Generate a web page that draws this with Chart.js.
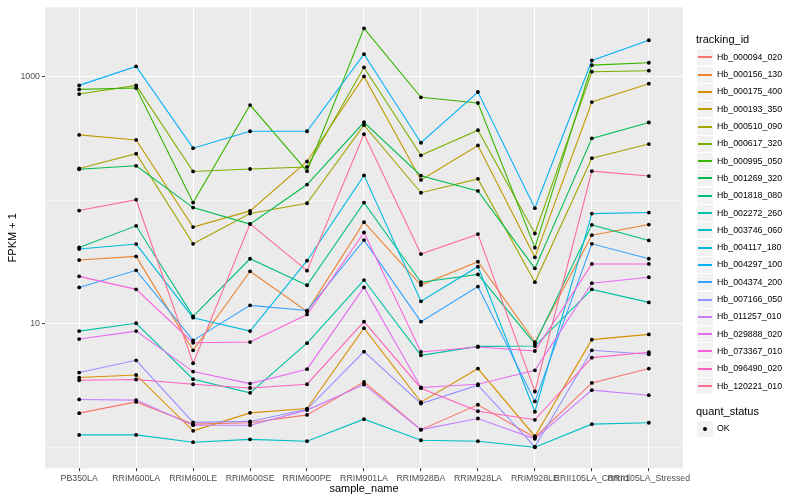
<!DOCTYPE html>
<html lang="en">
<head>
<meta charset="UTF-8">
<title>FPKM + 1 by sample</title>
<style>
    html, body { margin: 0; padding: 0; background: #ffffff; }
    #wrap { position: relative; width: 800px; height: 500px; }
    #chart { position: absolute; left: 0; top: 0; }
    #legend { position: absolute; left: 0; top: 0; font-family: "Liberation Sans", Arial, sans-serif; }
    .lg-title { position: absolute; font-size: 11px; line-height: 13px; color: #000; white-space: nowrap; }
    .lg-key { position: absolute; width: 16px; height: 16px; background: #F2F2F2; }
    .lg-line { position: absolute; left: 1px; width: 14px; top: 7px; height: 2px; }
    .lg-dot { position: absolute; left: 6px; top: 6px; width: 4px; height: 4px; border-radius: 50%; background: #000; }
    .lg-label { position: absolute; font-size: 8.8px; line-height: 10px; color: #000; white-space: nowrap; }
</style>
</head>
<body>
<div id="wrap">
    <canvas id="chart" width="800" height="500"></canvas>
    <div id="legend"></div>
</div>
<script src="https://cdn.jsdelivr.net/npm/chart.js"></script>
<script>
    const categories = ['PB350LA', 'RRIM600LA', 'RRIM600LE', 'RRIM600SE', 'RRIM600PE', 'RRIM901LA',
        'RRIM928BA', 'RRIM928LA', 'RRIM928LE', 'RRII105LA_Control', 'RRII105LA_Stressed'];

    const trackingIds = ['Hb_000094_020', 'Hb_000156_130', 'Hb_000175_400', 'Hb_000193_350', 'Hb_000510_090',
        'Hb_000617_320', 'Hb_000995_050', 'Hb_001269_320', 'Hb_001818_080', 'Hb_002272_260',
        'Hb_003746_060', 'Hb_004117_180', 'Hb_004297_100', 'Hb_004374_200', 'Hb_007166_050',
        'Hb_011257_010', 'Hb_029888_020', 'Hb_073367_010', 'Hb_096490_020', 'Hb_120221_010'];

    const lineColors = ['#F8766D', '#EA8331', '#D89000', '#C09B00', '#A3A500', '#7CAE00', '#39B600', '#00BB4E',
        '#00BF7D', '#00C1A3', '#00BFC4', '#00BAE0', '#00B0F6', '#35A2FF', '#9590FF', '#C77CFF',
        '#E76BF3', '#FA62DB', '#FF62BC', '#FF6C91'];

    // FPKM + 1 per sample, same order as categories
    const hb000094_020 = [1.89, 2.33, 1.54, 1.58, 1.83, 3.38, 1.39, 2.21, 1.20, 3.32, 4.34];
    const hb000156_130 = [32.8, 35.1, 6.10, 26.6, 12.6, 66.5, 20.6, 31.8, 7.11, 52.2, 63.6];
    const hb000175_400 = [3.67, 3.85, 1.36, 1.90, 2.06, 9.22, 2.32, 4.34, 1.23, 7.44, 8.20];
    const hb000193_350 = [338, 308, 60.6, 82.0, 206, 1006, 146, 278, 34.5, 624, 879];
    const hb000510_090 = [181, 238, 44.4, 78.0, 94.6, 405, 115, 149, 21.7, 219, 285];
    const hb000617_320 = [724, 851, 171, 179, 186, 1189, 231, 369, 53.8, 1098, 1119];
    const hb000995_050 = [790, 810, 95.7, 590, 172, 2467, 681, 613, 41.3, 1241, 1298];
    const hb001269_320 = [178, 190, 87.2, 64.1, 134, 428, 158, 119, 28.1, 317, 426];
    const hb001818_080 = [41.5, 62.1, 11.5, 33.6, 20.5, 95.7, 21.7, 25.1, 6.90, 63.2, 47.3];
    const hb002272_260 = [8.72, 10.1, 3.56, 2.76, 6.97, 22.6, 5.55, 6.56, 6.60, 19.0, 14.9];
    const hb003746_060 = [1.26, 1.26, 1.10, 1.16, 1.12, 1.69, 1.14, 1.12, 1.00, 1.54, 1.58];
    const hb004117_180 = [40.3, 44.2, 11.2, 8.72, 32.4, 159, 15.2, 29.0, 1.94, 78.0, 79.5];
    const hb004297_100 = [851, 1211, 264, 362, 362, 1522, 292, 752, 86.2, 1354, 1974];
    const hb004374_200 = [19.7, 27.1, 7.34, 14.1, 12.8, 47.6, 10.4, 20.0, 2.35, 44.4, 33.6];
    const hb007166_050 = [4.03, 5.06, 1.59, 1.62, 2.03, 5.95, 2.26, 3.18, 1.01, 6.10, 5.66];
    const hb011257_010 = [2.44, 2.41, 1.51, 1.51, 2.00, 3.22, 1.39, 1.71, 1.17, 2.90, 2.64];
    const hb029888_020 = [7.52, 8.72, 4.10, 3.28, 4.29, 19.7, 3.05, 3.24, 4.20, 21.3, 23.8];
    const hb073367_010 = [24.2, 19.0, 7.02, 7.11, 11.9, 54.8, 5.91, 6.48, 6.02, 30.5, 30.5];
    const hb096490_020 = [3.49, 3.54, 3.24, 3.02, 3.24, 10.4, 3.01, 1.96, 1.67, 5.32, 5.88];
    const hb120221_010 = [82.5, 101, 4.79, 64.4, 26.9, 343, 36.7, 53.2, 2.83, 172, 157];

    const seriesValues = [hb000094_020, hb000156_130, hb000175_400, hb000193_350, hb000510_090,
        hb000617_320, hb000995_050, hb001269_320, hb001818_080, hb002272_260,
        hb003746_060, hb004117_180, hb004297_100, hb004374_200, hb007166_050,
        hb011257_010, hb029888_020, hb073367_010, hb096490_020, hb120221_010];

    const yTicks = [1, 10, 100, 1000];
    const yLabelled = [10, 1000];

    const FONT = '"Liberation Sans", Arial, sans-serif';

    // grey panel behind the plot
    const panelBg = {
        id: 'panelBg',
        beforeDraw(chart) {
            const {ctx, chartArea: a} = chart;
            ctx.save();
            ctx.fillStyle = '#EBEBEB';
            ctx.fillRect(a.left, a.top, a.right - a.left, a.bottom - a.top);
            ctx.restore();
        }
    };

    // ggplot draws all lines first, then the points on top
    const pointsOnTop = {
        id: 'pointsOnTop',
        afterDatasetsDraw(chart) {
            const ctx = chart.ctx;
            ctx.save();
            ctx.fillStyle = '#000000';
            chart.data.datasets.forEach((ds, i) => {
                chart.getDatasetMeta(i).data.forEach(pt => {
                    ctx.beginPath();
                    ctx.arc(pt.x, pt.y, 1.9, 0, Math.PI * 2);
                    ctx.fill();
                });
            });
            ctx.restore();
        }
    };

    const datasets = seriesValues.map((vals, i) => ({
        label: trackingIds[i],
        data: vals.map((v, j) => ({x: j, y: v})),
        borderColor: lineColors[i],
        backgroundColor: lineColors[i],
        borderWidth: 1.1,
        pointRadius: 0,
        tension: 0,
        fill: false,
        order: seriesValues.length - i
    }));

    new Chart(document.getElementById('chart'), {
        type: 'line',
        data: {datasets: datasets},
        options: {
            responsive: false,
            animation: false,
            devicePixelRatio: 1,
            layout: {padding: {top: 5, right: 117, left: 0, bottom: 0}},
            plugins: {legend: {display: false}, tooltip: {enabled: false}},
            scales: {
                x: {
                    type: 'linear',
                    min: -0.6,
                    max: 10.6,
                    afterBuildTicks: scale => { scale.ticks = categories.map((c, i) => ({value: i})); },
                    afterFit: scale => { scale.height = 31.7; },
                    border: {display: false},
                    grid: {color: '#FFFFFF', lineWidth: 1.1, tickColor: '#333333', tickLength: 3, tickWidth: 1},
                    ticks: {
                        autoSkip: false, maxRotation: 0, minRotation: 0, padding: 2,
                        color: '#4D4D4D', font: {family: FONT, size: 8.8},
                        callback: v => categories[v]
                    },
                    title: {display: true, text: 'sample_name', color: '#000000',
                        font: {family: FONT, size: 11}, padding: {top: 0, bottom: 4.9}}
                },
                y: {
                    type: 'logarithmic',
                    min: 0.676,
                    max: 3650,
                    afterBuildTicks: scale => { scale.ticks = yTicks.map(v => ({value: v})); },
                    afterFit: scale => { scale.width = 45; },
                    border: {display: false},
                    grid: {
                        color: '#FFFFFF',
                        lineWidth: c => yLabelled.includes(c.tick.value) ? 1.1 : 0.55,
                        tickColor: c => yLabelled.includes(c.tick.value) ? '#333333' : 'rgba(0,0,0,0)',
                        tickLength: 3, tickWidth: 1
                    },
                    ticks: {
                        padding: 2, color: '#4D4D4D', font: {family: FONT, size: 8.8},
                        callback: v => yLabelled.includes(v) ? String(v) : ''
                    },
                    title: {display: true, text: 'FPKM + 1', color: '#000000',
                        font: {family: FONT, size: 11}, padding: {top: 6.1, bottom: 0}}
                }
            }
        },
        plugins: [panelBg, pointsOnTop]
    });

    // legend on the right, ggplot style
    const legendBox = document.getElementById('legend');

    function place(el, x, y) {
        el.style.left = Math.round(x) + 'px';
        el.style.top = Math.round(y) + 'px';
        legendBox.appendChild(el);
        return el;
    }

    function textEl(cls, text) {
        const el = document.createElement('div');
        el.className = cls;
        el.textContent = text;
        return el;
    }

    place(textEl('lg-title', 'tracking_id'), 696, 33);
    trackingIds.forEach((id, i) => {
        const cy = 57.3 + 17.3 * i;
        const key = document.createElement('div');
        key.className = 'lg-key';
        const line = document.createElement('div');
        line.className = 'lg-line';
        line.style.background = lineColors[i];
        key.appendChild(line);
        place(key, 697, cy - 8);
        place(textEl('lg-label', id), 717, cy - 5.5);
    });

    place(textEl('lg-title', 'quant_status'), 696, 405);
    const okKey = document.createElement('div');
    okKey.className = 'lg-key';
    const dot = document.createElement('div');
    dot.className = 'lg-dot';
    okKey.appendChild(dot);
    place(okKey, 697, 428.7 - 8);
    place(textEl('lg-label', 'OK'), 717, 428.7 - 5.5);
</script>
</body>
</html>
